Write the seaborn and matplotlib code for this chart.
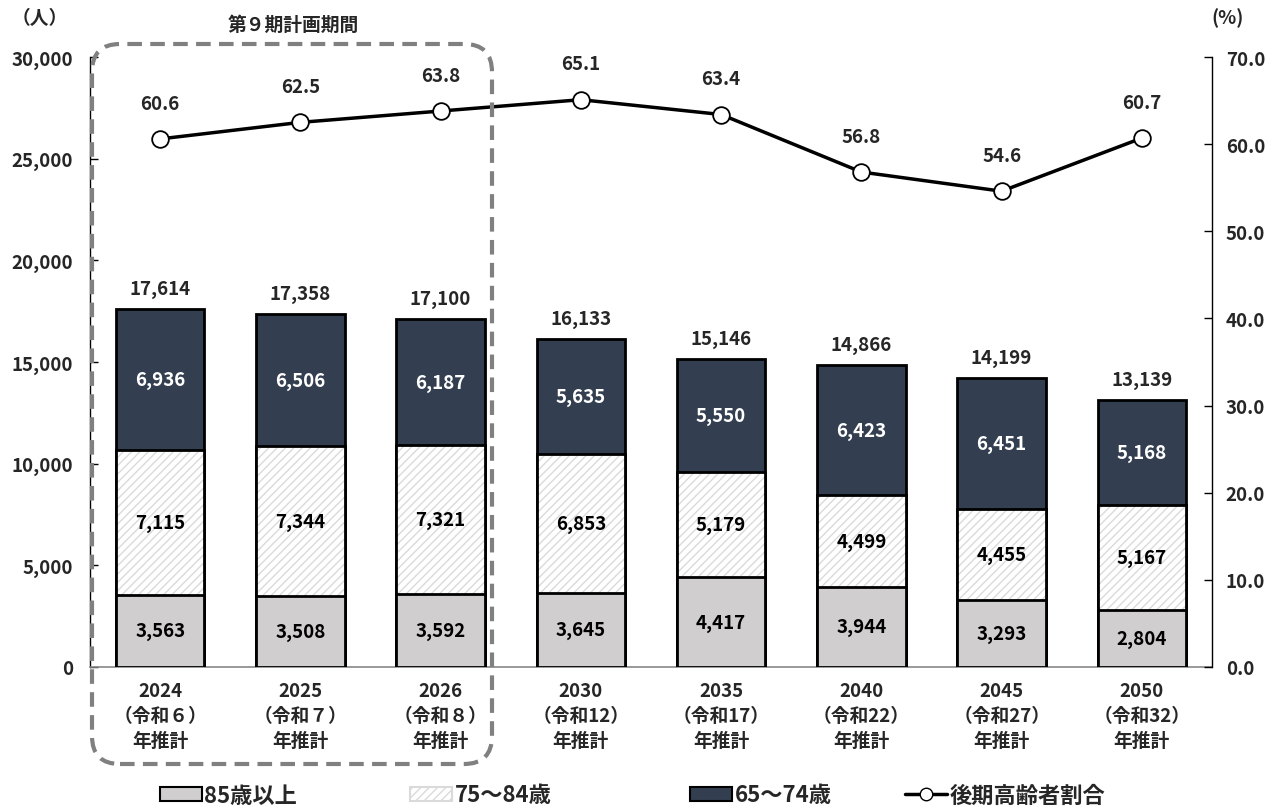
import matplotlib
matplotlib.use("Agg")
import matplotlib.pyplot as plt
import matplotlib.transforms as mtransforms
from matplotlib.patches import FancyBboxPatch, Patch
from matplotlib.lines import Line2D
import numpy as np
import pandas as pd
import seaborn as sns

# ---- data ----
categories = ["2024\n（令和６）\n年推計", "2025\n（令和７）\n年推計", "2026\n（令和８）\n年推計",
              "2030\n（令和12）\n年推計", "2035\n（令和17）\n年推計", "2040\n（令和22）\n年推計",
              "2045\n（令和27）\n年推計", "2050\n（令和32）\n年推計"]
age85 = [3563, 3508, 3592, 3645, 4417, 3944, 3293, 2804]
age75 = [7115, 7344, 7321, 6853, 5179, 4499, 4455, 5167]
age65 = [6936, 6506, 6187, 5635, 5550, 6423, 6451, 5168]
totals = [17614, 17358, 17100, 16133, 15146, 14866, 14199, 13139]
ratio = [60.6, 62.5, 63.8, 65.1, 63.4, 56.8, 54.6, 60.7]
left_ticks = [0, 5000, 10000, 15000, 20000, 25000, 30000]
right_ticks = [0, 10, 20, 30, 40, 50, 60, 70]
legend_labels = ["85歳以上", "75～84歳", "65～74歳", "後期高齢者割合"]

sns.set_theme(style="white")
plt.rcParams["font.family"] = ["Noto Sans CJK JP", "DejaVu Sans"]
plt.rcParams["font.weight"] = "bold"
plt.rcParams["hatch.linewidth"] = 1.0

DARK = "#333F50"
GRAY = "#D0CECE"
HATCH = "#DADADA"

df = pd.DataFrame({"cat": categories, "a85": age85, "a75": age75, "a65": age65,
                   "total": totals, "ratio": ratio})
df["low2"] = df["a85"] + df["a75"]

fig = plt.figure(figsize=(12.71, 8.12), dpi=100)
ax = fig.add_axes([90 / 1271, 1 - 668 / 812, (1212 - 90) / 1271, (668 - 58) / 812])

W = 0.63
sns.barplot(data=df, x="cat", y="total", color=DARK, saturation=1, width=W,
            edgecolor="black", linewidth=2, ax=ax, zorder=2)
sns.barplot(data=df, x="cat", y="low2", color="white", saturation=1, width=W,
            edgecolor=HATCH, linewidth=0, hatch="////", ax=ax, zorder=3)
sns.barplot(data=df, x="cat", y="low2", color="black", fill=False, width=W,
            linewidth=2, ax=ax, zorder=4)
sns.barplot(data=df, x="cat", y="a85", color=GRAY, saturation=1, width=W,
            edgecolor="black", linewidth=2, ax=ax, zorder=5)

FS = 13.5
ax.set_ylim(0, 30000)
ax.set_xlim(-0.5, len(categories) - 0.5)
ax.set_yticks(left_ticks)
ax.set_yticklabels([f"{v:,}" for v in left_ticks], fontsize=FS, fontweight="bold")
ax.set_xticks(range(len(categories)))
ax.set_xticklabels(categories, fontsize=FS, fontweight="bold", linespacing=1.4)
ax.set_xticks(np.arange(0.5, len(categories) - 0.5, 1), minor=True)
ax.tick_params(axis="x", which="major", length=0, pad=10)
ax.tick_params(axis="x", which="minor", direction="in", length=6, color="#888888", width=1)
ax.tick_params(axis="y", direction="in", length=6, color="black", width=1, pad=12)
ax.set_xlabel("")
ax.set_ylabel("")
for s in ["top", "right"]:
    ax.spines[s].set_visible(False)
ax.spines["left"].set_color("black")
ax.spines["left"].set_linewidth(1)
ax.spines["bottom"].set_color("#888888")
ax.spines["bottom"].set_linewidth(1.2)
ax.grid(False)

# labels in bars
for i in range(len(categories)):
    ax.text(i, age85[i] / 2, f"{age85[i]:,}", ha="center", va="center",
            fontsize=FS, fontweight="bold", color="black", zorder=6)
    ax.text(i, age85[i] + age75[i] / 2, f"{age75[i]:,}", ha="center", va="center",
            fontsize=FS, fontweight="bold", color="black", zorder=6)
    ax.text(i, age85[i] + age75[i] + age65[i] / 2, f"{age65[i]:,}", ha="center", va="center",
            fontsize=FS, fontweight="bold", color="white", zorder=6)
    ax.annotate(f"{totals[i]:,}", (i, totals[i]), xytext=(0, 8), textcoords="offset points",
                ha="center", va="bottom", fontsize=FS, fontweight="bold", zorder=6)

# line on twin axis
ax2 = ax.twinx()
sns.lineplot(data=df, x="cat", y="ratio", sort=False, color="black", linewidth=2.5,
             marker="o", markersize=12, markerfacecolor="white", markeredgecolor="black",
             markeredgewidth=1.3, ax=ax2, zorder=7)
ax2.set_ylim(0, 70)
ax2.set_yticks(right_ticks)
ax2.set_yticklabels([f"{v:.1f}" for v in right_ticks], fontsize=FS, fontweight="bold")
ax2.tick_params(axis="y", direction="in", length=6, color="black", width=1, pad=10)
ax2.set_ylabel("")
ax2.set_xlabel("")
for s in ["top", "left", "bottom"]:
    ax2.spines[s].set_visible(False)
ax2.spines["right"].set_color("black")
ax2.spines["right"].set_linewidth(1)
ax2.grid(False)
for i in range(len(categories)):
    ax2.annotate(f"{ratio[i]:.1f}", (i, ratio[i]), xytext=(0, 19), textcoords="offset points",
                 ha="center", va="bottom", fontsize=FS, fontweight="bold")

# annotations
H = 812
fig.text(40 / 1271, 1 - 18 / H, "（人）", ha="center", va="center", fontsize=FS, fontweight="bold")
fig.text(1228 / 1271, 1 - 18 / H, "(%)", ha="center", va="center", fontsize=FS, fontweight="bold")
fig.text(293 / 1271, 1 - 25 / H, "第９期計画期間", ha="center", va="center", fontsize=FS, fontweight="bold")

box = FancyBboxPatch((92, H - 765), 400, 720, boxstyle="round,pad=0,rounding_size=28",
                     transform=mtransforms.IdentityTransform(), fill=False,
                     edgecolor="#808080", linewidth=3, linestyle=(0, (3.5, 2)), zorder=10)
fig.patches.append(box)

handles = [Patch(facecolor=GRAY, edgecolor="black", linewidth=1.5),
           Patch(facecolor="white", edgecolor=HATCH, hatch="////", linewidth=1.5),
           Patch(facecolor=DARK, edgecolor="black", linewidth=1.5),
           Line2D([0], [0], color="black", linewidth=2.5, marker="o", markersize=9,
                  markerfacecolor="white", markeredgecolor="black")]
legend_x = [160, 410, 690, 905]
for h, lab, lx in zip(handles, legend_labels, legend_x):
    leg = fig.legend([h], [lab], loc="center left", bbox_to_anchor=(lx / 1271, 1 - 796 / H),
                     frameon=False, prop={"weight": "bold", "size": 16},
                     borderaxespad=0, borderpad=0, handlelength=1.9, handleheight=0.6,
                     handletextpad=0.1)

fig.savefig("out.png", dpi=100)
